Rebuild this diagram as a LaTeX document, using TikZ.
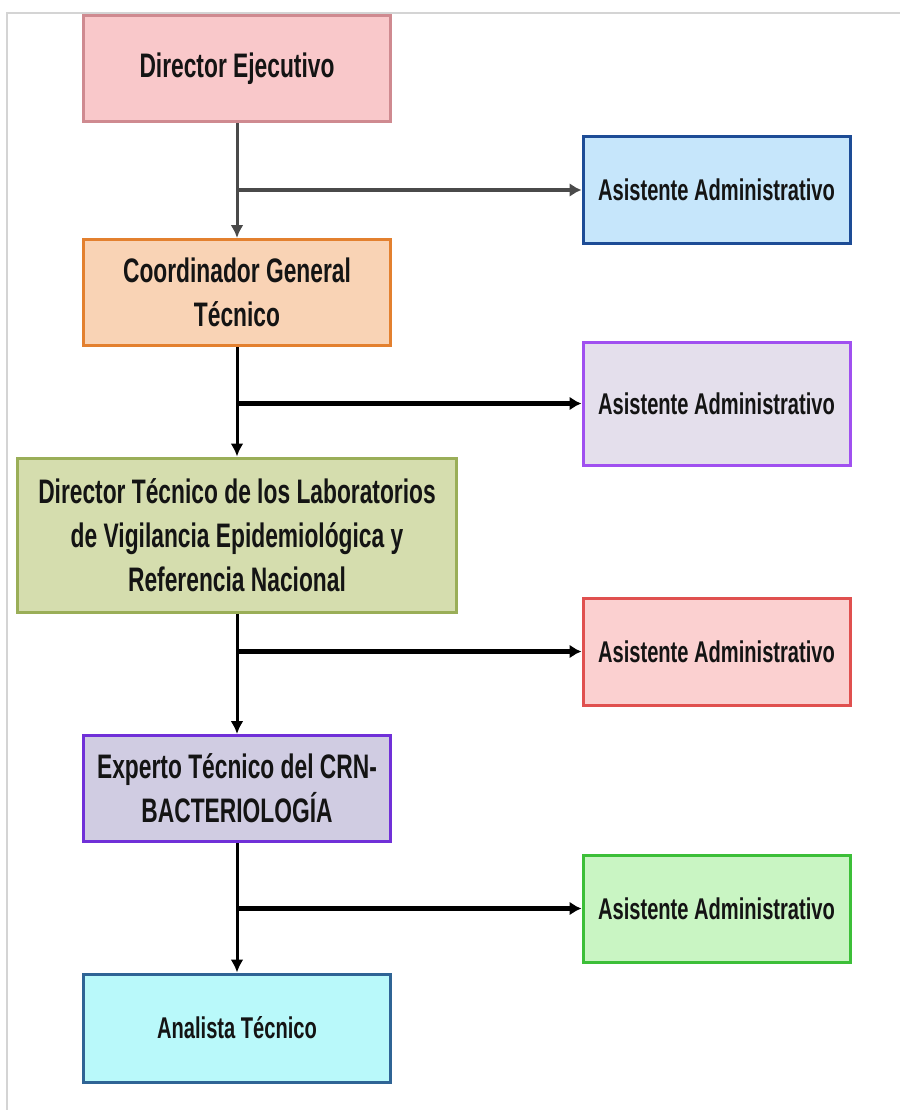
\documentclass[tikz,border=0pt]{standalone}
\usepackage{fontspec}
\newfontfamily\boxfont{Liberation Sans}[FakeStretch=0.67]
\usetikzlibrary{arrows.meta}
\definecolor{deFill}{HTML}{F9C8CA}\definecolor{deLine}{HTML}{CF8A90}
\definecolor{cgFill}{HTML}{F9D3B5}\definecolor{cgLine}{HTML}{E3802F}
\definecolor{aaFill}{HTML}{C6E6FB}\definecolor{aaLine}{HTML}{1D4C96}
\definecolor{abFill}{HTML}{E4DFEC}\definecolor{abLine}{HTML}{A050F0}
\definecolor{dtFill}{HTML}{D5DDAE}\definecolor{dtLine}{HTML}{9AAE58}
\definecolor{acFill}{HTML}{FBD0D0}\definecolor{acLine}{HTML}{E0504F}
\definecolor{etFill}{HTML}{D0CCE2}\definecolor{etLine}{HTML}{7030D8}
\definecolor{adFill}{HTML}{C9F5C3}\definecolor{adLine}{HTML}{3CBF38}
\definecolor{anFill}{HTML}{B9F9FA}\definecolor{anLine}{HTML}{2F6495}
\definecolor{frameGray}{HTML}{D4D4D4}
\definecolor{grayArrow}{HTML}{4A4A4A}
\begin{document}
\begin{tikzpicture}[x=1pt,y=-1pt,
  orgbox/.style={draw, line width=3pt, rectangle, align=center, inner sep=0pt, text=black!92},
  bigtext/.style={font=\boxfont\bfseries\fontsize{34}{44}\selectfont},
  smalltext/.style={font=\boxfont\bfseries\fontsize{30}{44}\selectfont},
  mainbox/.style={orgbox, bigtext, minimum width=307pt, minimum height=106pt},
  assbox/.style={orgbox, smalltext, minimum width=267pt, minimum height=106pt},
  vconn/.style={line width=3pt, -{Latex[length=13pt,width=13pt]}},
  hconn/.style={line width=4.4pt, -{Latex[length=12pt,width=14pt]}}
]
\useasboundingbox (0,0) rectangle (900,1110);
% frame
\draw[frameGray, line width=1.2pt] (7,1110) -- (7,13) -- (900,13);

% left column
\node[mainbox, fill=deFill, draw=deLine] (de) at (237,69) {Director Ejecutivo};
\node[mainbox, fill=cgFill, draw=cgLine] (cg) at (237,292.5) {Coordinador General\\Técnico};
\node[orgbox, bigtext, fill=dtFill, draw=dtLine, minimum width=439pt, minimum height=154pt] (dt) at (237,535) {Director Técnico de los Laboratorios\\de Vigilancia Epidemiológica y\\Referencia Nacional};
\node[mainbox, fill=etFill, draw=etLine] (et) at (237,788.5) {Experto Técnico del CRN-\\BACTERIOLOGÍA};
\node[mainbox, smalltext, fill=anFill, draw=anLine, minimum height=108pt] (an) at (237,1028) {Analista Técnico};

% right column
\node[assbox, fill=aaFill, draw=aaLine] (aa) at (716.5,190) {Asistente Administrativo};
\node[assbox, fill=abFill, draw=abLine, minimum height=123pt] (ab) at (716.5,403.5) {Asistente Administrativo};
\node[assbox, fill=acFill, draw=acLine, minimum height=107pt] (ac) at (716.5,651.5) {Asistente Administrativo};
\node[assbox, fill=adFill, draw=adLine, minimum height=107pt] (ad) at (716.5,908.5) {Asistente Administrativo};

% connectors
\draw[vconn, grayArrow] (de.south) -- (cg.north);
\draw[hconn, grayArrow, line width=3.8pt] (aa.west -| de.south) -- (aa.west);
\draw[vconn] (cg.south) -- (dt.north);
\draw[hconn] (ab.west -| cg.south) -- (ab.west);
\draw[vconn] (dt.south) -- (et.north);
\draw[hconn] (ac.west -| dt.south) -- (ac.west);
\draw[vconn] (et.south) -- (an.north);
\draw[hconn] (ad.west -| et.south) -- (ad.west);
\end{tikzpicture}
\end{document}
